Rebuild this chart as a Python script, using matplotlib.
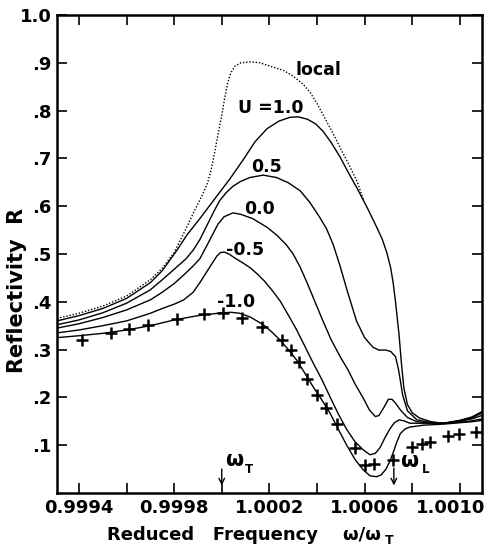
import numpy as np
import matplotlib
matplotlib.use("Agg")
import matplotlib.pyplot as plt
import matplotlib.transforms as mtransforms

plt.rcParams["font.family"] = ["DejaVu Sans"]
plt.rcParams["font.weight"] = "bold"

# reduced frequency w/wT and reflectivity
f_local = [0.999308, 0.9994, 0.9995, 0.9996, 0.9997, 0.99975, 0.9998, 0.99985, 0.99988,
           0.9999, 0.99992, 0.99994, 0.999955, 0.99997, 0.999985, 1.0, 1.000012,
           1.000025, 1.000038, 1.000055, 1.00008, 1.00012, 1.00016, 1.000215, 1.00026,
           1.0003, 1.00034, 1.00037, 1.0004, 1.00043, 1.000467, 1.0005, 1.000539,
           1.00057, 1.000595]
r_local = [0.365, 0.376, 0.391, 0.412, 0.446, 0.47, 0.503, 0.553, 0.585,
           0.605, 0.625, 0.648, 0.675, 0.712, 0.752, 0.79, 0.825,
           0.858, 0.879, 0.893, 0.90, 0.902, 0.90, 0.891, 0.884,
           0.872, 0.856, 0.839, 0.815, 0.787, 0.753, 0.72, 0.682,
           0.65, 0.614]

f_u10 = [0.999308, 0.9994, 0.9995, 0.9996, 0.9997, 0.99975, 0.999812, 0.999854, 0.999908,
         0.99997, 1.000034, 1.00009, 1.00014, 1.00019, 1.00024, 1.000287, 1.00032, 1.00036,
         1.000395, 1.000425, 1.00046, 1.000497, 1.00053, 1.000568, 1.00061, 1.000652,
         1.000675, 1.000694, 1.00071, 1.00072, 1.00073, 1.000745, 1.000755, 1.000765,
         1.00078, 1.0008, 1.00083, 1.00088, 1.00093, 1.001, 1.00105, 1.001092]
r_u10 = [0.36, 0.371, 0.386, 0.407, 0.44, 0.465, 0.508, 0.54, 0.574,
         0.615, 0.657, 0.697, 0.735, 0.762, 0.778, 0.786, 0.787, 0.782,
         0.772, 0.757, 0.733, 0.703, 0.672, 0.638, 0.598, 0.555,
         0.53, 0.502, 0.47, 0.44, 0.40, 0.33, 0.27, 0.22,
         0.185, 0.168, 0.157, 0.149, 0.146, 0.152, 0.159, 0.17]

f_u05 = [0.999308, 0.9994, 0.9995, 0.9996, 0.9997, 0.99975, 0.9998, 0.99985, 0.99988,
         0.999908, 0.99994, 0.99997, 0.999992, 1.00002, 1.000048, 1.00008, 1.000118,
         1.000174, 1.00023, 1.00028, 1.00033, 1.00037, 1.00041, 1.00044, 1.000468,
         1.000497, 1.000526, 1.000566, 1.0006, 1.000635, 1.00066, 1.00069, 1.00071,
         1.00073, 1.000742, 1.00075, 1.00076, 1.00078, 1.00082, 1.00087, 1.00093,
         1.001, 1.00105, 1.001092]
r_u05 = [0.352, 0.362, 0.377, 0.397, 0.425, 0.446, 0.468, 0.49, 0.508,
         0.53, 0.562, 0.592, 0.612, 0.629, 0.642, 0.652, 0.66,
         0.665, 0.66, 0.649, 0.632, 0.608, 0.578, 0.553, 0.52,
         0.475, 0.425, 0.36, 0.325, 0.305, 0.299, 0.299, 0.296,
         0.285, 0.26, 0.236, 0.205, 0.172, 0.153, 0.148, 0.146,
         0.151, 0.157, 0.167]

f_u00 = [0.999308, 0.9994, 0.9995, 0.9996, 0.9997, 0.99975, 0.9998, 0.99984, 0.99988,
         0.999908, 0.99994, 0.999964, 0.999985, 1.00001, 1.000047, 1.00008, 1.00013,
         1.00019, 1.00023, 1.00027, 1.0003, 1.00033, 1.00036, 1.00039, 1.00042,
         1.00046, 1.0005, 1.00053, 1.00056, 1.000595, 1.00062, 1.000645, 1.00066,
         1.00068, 1.0007, 1.000715, 1.00073, 1.00075, 1.00078, 1.00082, 1.00087,
         1.00093, 1.001, 1.00105, 1.001092]
r_u00 = [0.345, 0.354, 0.367, 0.383, 0.404, 0.42, 0.438, 0.456, 0.475,
         0.49, 0.52, 0.543, 0.563, 0.578, 0.586, 0.583, 0.574,
         0.556, 0.54, 0.52, 0.50, 0.472, 0.438, 0.402, 0.366,
         0.32, 0.283, 0.258, 0.228, 0.198, 0.174, 0.16, 0.162,
         0.178, 0.196, 0.196, 0.188, 0.174, 0.158, 0.149, 0.147,
         0.146, 0.15, 0.155, 0.162]

f_um05 = [0.999308, 0.9994, 0.9995, 0.9996, 0.9997, 0.99975, 0.9998, 0.99984, 0.99988,
          0.999908, 0.99994, 0.999963, 0.99998, 0.999995, 1.00001, 1.00003, 1.00006,
          1.00009, 1.00012, 1.00015, 1.00018, 1.00021, 1.000245, 1.00028, 1.000315,
          1.00035, 1.000384, 1.00042, 1.000455, 1.00049, 1.000525, 1.00056, 1.000595,
          1.000623, 1.000645, 1.000665, 1.000685, 1.000705, 1.000725, 1.000745,
          1.000765, 1.00079, 1.00085, 1.00093, 1.001, 1.00105, 1.001092]
r_um05 = [0.335, 0.341, 0.35, 0.36, 0.376, 0.386, 0.395, 0.404, 0.42,
          0.44, 0.465, 0.483, 0.496, 0.503, 0.504, 0.50, 0.49,
          0.481, 0.471, 0.458, 0.443, 0.425, 0.402, 0.372, 0.341,
          0.306, 0.272, 0.238, 0.201, 0.165, 0.133, 0.107, 0.09,
          0.08, 0.083, 0.095, 0.115, 0.133, 0.147, 0.153,
          0.151, 0.146, 0.146, 0.146, 0.148, 0.151, 0.155]

f_um10 = [0.999308, 0.9994, 0.9995, 0.9996, 0.9997, 0.9998, 0.9999, 1.0, 1.00004,
          1.000076, 1.00012, 1.000175, 1.00021, 1.000245, 1.00028, 1.000315, 1.00035,
          1.000384, 1.00042, 1.000455, 1.00049, 1.000525, 1.00056, 1.000595, 1.000623,
          1.00065, 1.00067, 1.00069, 1.000705, 1.00072, 1.000735, 1.00075, 1.00077,
          1.00079, 1.00085, 1.00093, 1.001, 1.00105, 1.001092]
r_um10 = [0.325, 0.329, 0.334, 0.341, 0.35, 0.362, 0.371, 0.377, 0.378,
          0.376, 0.368, 0.352, 0.337, 0.32, 0.30, 0.278, 0.25,
          0.222, 0.195, 0.167, 0.133, 0.10, 0.07, 0.048, 0.036,
          0.034, 0.038, 0.05, 0.065, 0.084, 0.106, 0.124, 0.134,
          0.138, 0.142, 0.144, 0.147, 0.149, 0.152]

# experimental points (crosses)
f_exp = [0.999413, 0.999534, 0.99961, 0.99969, 0.999812, 0.999926, 1.000005, 1.000085,
         1.000168, 1.000253, 1.00029, 1.000324, 1.00036, 1.0004, 1.00044, 1.000484,
         1.00056, 1.0006, 1.00064, 1.00072, 1.0008, 1.00084, 1.000875, 1.00095,
         1.000995, 1.00107]
r_exp = [0.32, 0.335, 0.343, 0.351, 0.364, 0.374, 0.377, 0.366,
         0.347, 0.32, 0.299, 0.274, 0.238, 0.205, 0.178, 0.144,
         0.094, 0.059, 0.061, 0.069, 0.096, 0.103, 0.107, 0.119,
         0.123, 0.128]

curve_labels = ["local", "U =1.0", "0.5", "0.0", "-0.5", "-1.0"]
label_f = [1.000408, 1.000207, 1.00019, 1.00016, 1.000097, 1.00006]
label_r = [0.885, 0.805, 0.682, 0.594, 0.508, 0.40]

w_T = 1.0
w_L = 1.000723

xticks = [0.9994, 0.9996, 0.9998, 1.0000, 1.0002, 1.0004, 1.0006, 1.0008, 1.0010]
xticklabels = ["0.9994", "", "0.9998", "", "1.0002", "", "1.0006", "", "1.0010"]
yticks = [0.1, 0.2, 0.3, 0.4, 0.5, 0.6, 0.7, 0.8, 0.9, 1.0]
yticklabels = [".1", ".2", ".3", ".4", ".5", ".6", ".7", ".8", ".9", "1.0"]

fig = plt.figure(figsize=(4.87, 5.5), dpi=100)
ax = fig.add_axes([57 / 487, 57 / 550, (481.7 - 57) / 487, (493 - 15) / 550])

ax.plot(f_local, r_local, color="black", lw=1.0, linestyle=(0, (1, 1.3)))
for f, r in [(f_u10, r_u10), (f_u05, r_u05), (f_u00, r_u00), (f_um05, r_um05), (f_um10, r_um10)]:
    ax.plot(f, r, color="black", lw=1.0, solid_joinstyle="round")
ax.plot(f_exp, r_exp, linestyle="none", marker="+", color="black", ms=8, mew=1.8)

for txt, x, y in zip(curve_labels, label_f, label_r):
    ax.text(x, y, txt, ha="center", va="center", fontsize=12.5, fontweight="bold")

# wT and wL markers
ax.annotate("", xy=(w_T, 0.01), xytext=(w_T, 0.056),
            arrowprops=dict(arrowstyle="->", color="black", lw=1.0))
ax.annotate("", xy=(w_L, 0.01), xytext=(w_L, 0.058),
            arrowprops=dict(arrowstyle="->", color="black", lw=1.0))
ax.text(1.0000513, 0.069, "ω", ha="center", va="center", fontsize=15)
ax.text(1.000116, 0.05, "T", ha="center", va="center", fontsize=8.5)
ax.text(1.000787, 0.067, "ω", ha="center", va="center", fontsize=15)
ax.text(1.000858, 0.05, "L", ha="center", va="center", fontsize=8.5)

ax.set_xlim(0.999308, 1.001092)
ax.set_ylim(0, 1.0)
ax.set_xticks(xticks)
ax.set_xticklabels(xticklabels)
ax.set_yticks(yticks)
ax.set_yticklabels(yticklabels)
ax.tick_params(direction="in", length=7, width=1.2, top=True, right=True,
               labelsize=13, pad=4)
for lab in ax.get_xticklabels() + ax.get_yticklabels():
    lab.set_fontweight("bold")
# pull the last x label in so it stays inside the figure
last = ax.get_xticklabels()[-1]
last.set_transform(last.get_transform()
                   + mtransforms.ScaledTranslation(-9 / 100, 0, fig.dpi_scale_trans))
for s in ax.spines.values():
    s.set_linewidth(1.8)

fig.text(17 / 487, 1 - 290 / 550, "Reflectivity  R", rotation=90, ha="center",
         va="center", fontsize=15, fontweight="bold")
fig.text(107 / 487, 1 - 535 / 550, "Reduced   Frequency    ω/ω", ha="left",
         va="center", fontsize=13, fontweight="bold")
fig.text(389 / 487, 1 - 541 / 550, "T", ha="center", va="center", fontsize=9,
         fontweight="bold")

fig.savefig("out.png", dpi=100)
